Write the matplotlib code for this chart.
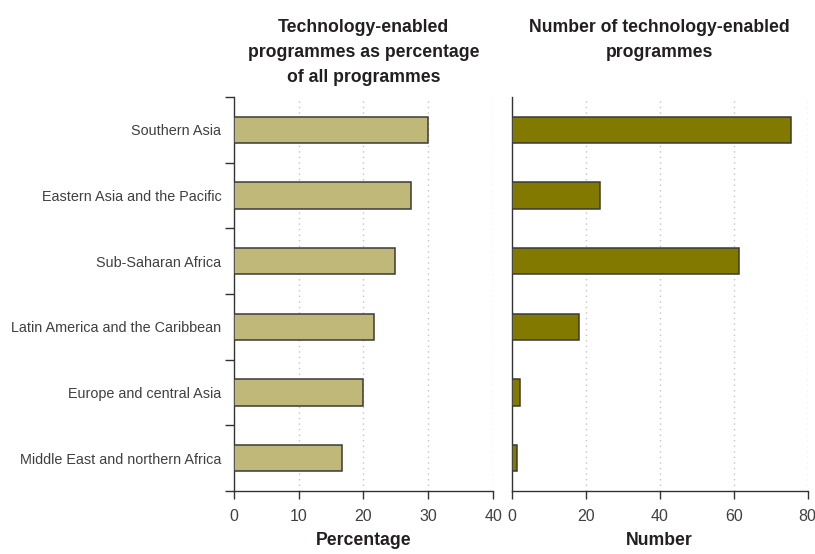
import numpy as np
import matplotlib.pyplot as plt

regions = [
    'Southern Asia',
    'Eastern Asia and the Pacific',
    'Sub-Saharan Africa',
    'Latin America and the Caribbean',
    'Europe and central Asia',
    'Middle East and northern Africa',
]
percentage = [30.0, 27.3, 24.8, 21.6, 20.0, 16.7]
number = [75.4, 23.8, 61.3, 18.1, 2.2, 1.4]

pct_ticks = [0, 10, 20, 30, 40]
num_ticks = [0, 20, 40, 60, 80]

plt.rcParams['font.family'] = ['Liberation Sans', 'DejaVu Sans']

fig = plt.figure(figsize=(8.15, 5.54), dpi=100)
ax1 = fig.add_axes([0.287, 0.1137, 0.318, 0.711])
ax2 = fig.add_axes([0.628, 0.1137, 0.363, 0.711])

y = np.arange(len(regions))[::-1]


def style(ax, ticks, colour, values, title, xlabel):
    ax.barh(y, values, height=0.4, color=colour, edgecolor='#3a3a3a',
            linewidth=1.1, zorder=3)
    ax.set_xlim(ticks[0], ticks[-1])
    ax.set_ylim(-0.5, len(regions) - 0.5)
    ax.set_xticks(ticks)
    ax.tick_params(axis='x', labelsize=11.5, labelcolor='#404040',
                   length=6, width=1, color='#333333', pad=7)
    for t in ticks[1:]:
        ax.axvline(t, color='#c4c4c4', linestyle=(0, (1, 3)), linewidth=1,
                   zorder=1)
    for s in ['top', 'right']:
        ax.spines[s].set_visible(False)
    for s in ['left', 'bottom']:
        ax.spines[s].set_color('#333333')
        ax.spines[s].set_linewidth(1)
    # titles hang from the same top line
    pos = ax.get_position()
    fig.text((pos.x0 + pos.x1) / 2, 1 - 19 / 554, title, ha='center',
             va='top', fontsize=12.7, fontweight='bold', color='#231f20',
             linespacing=1.62)
    ax.set_xlabel(xlabel, fontsize=12.7, fontweight='bold', color='#231f20',
                  labelpad=6)


style(ax1, pct_ticks, '#bfb878', percentage,
      'Technology-enabled\nprogrammes as percentage\nof all programmes',
      'Percentage')
style(ax2, num_ticks, '#827a00', number,
      'Number of technology-enabled\nprogrammes', 'Number')

# category labels sit between boundary ticks
ax1.set_yticks(y)
ax1.set_yticklabels(regions, fontsize=10.4, color='#404040')
ax1.tick_params(axis='y', which='major', length=0, pad=9)
ax1.set_yticks(np.arange(-0.5, len(regions)), minor=True)
ax1.tick_params(axis='y', which='minor', length=6.5, width=1, color='#333333')

ax2.set_yticks([])

fig.savefig('out.png', dpi=100)
